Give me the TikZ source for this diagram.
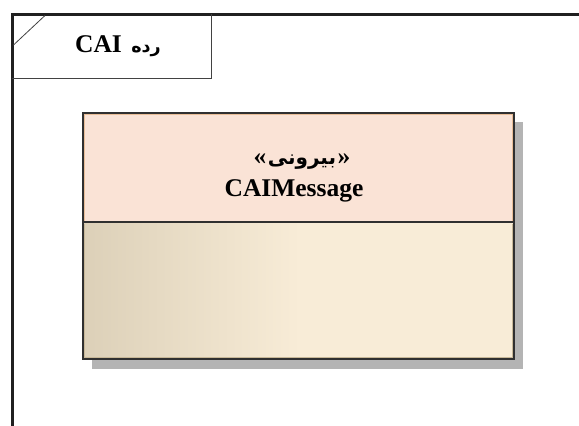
\documentclass[tikz,border=0pt]{standalone}
\usepackage{fontspec}
\setmainfont{Liberation Serif}
\newfontfamily\arabicfont[Script=Arabic]{DejaVu Sans}
\TeXXeTstate=1
\definecolor{frameline}{HTML}{202020}
\definecolor{boxline}{HTML}{303030}
\definecolor{headfill}{HTML}{FAE3D6}
\definecolor{headedge}{HTML}{E9BE98}
\definecolor{bodyleft}{HTML}{DCD0B8}
\definecolor{bodyright}{HTML}{F8ECD7}
\definecolor{bodyedge}{HTML}{C8B898}
\definecolor{shadowgrey}{HTML}{B4B4B4}
\tikzset{
  lbl/.style={inner sep=0pt, anchor=base, font=\fontsize{25.5}{30}\selectfont\bfseries},
  arlbl/.style={inner sep=0pt, anchor=base, font=\arabicfont\fontsize{17.5}{30}\selectfont\bfseries},
  arbig/.style={arlbl, font=\arabicfont\fontsize{20}{30}\selectfont\bfseries},
}
\begin{document}
\begin{tikzpicture}[x=1pt,y=-1pt]
  \useasboundingbox (0,0) rectangle (579,426);
  \fill[white] (0,0) rectangle (579,426);

  % package frame
  \draw[frameline, line width=3pt] (12,426) -- (12,14) -- (579,14);
  % name tab
  \draw[frameline!85, line width=0.8pt] (12,78) -- (211,78) -- (211,14);
  \draw[frameline!85, line width=0.8pt] (13.5,45) -- (45,15.5);
  \node[lbl] (cai) at (98.5,52.7) {CAI};
  \node[arlbl, anchor=base west] (rade) at ([xshift=9pt]cai.base east) {\beginR رده\endR};

  % class box shadow
  \fill[shadowgrey] (92,122) rectangle (523,369);
  % header compartment
  \fill[headfill] (83,113) rectangle (514,222);
  % body compartment with gradient on its left part
  \shade[left color=bodyleft, right color=bodyright] (83,222) rectangle (300,359);
  \fill[bodyright] (299.5,222) rectangle (514,359);
  % inner edges
  \draw[headedge, line width=0.7pt] (84.8,220.5) -- (84.8,114.8) -- (512.2,114.8) -- (512.2,220.5);
  \draw[bodyedge, line width=0.7pt] (84.8,223.5) -- (84.8,357.2) -- (512.2,357.2) -- (512.2,223.5);
  % outline and divider
  \draw[boxline, line width=2.2pt] (83,113) rectangle (514,359);
  \draw[boxline, line width=1.6pt] (83,222) -- (514,222);

  % class labels
  \node[arbig] (stereo) at (302,164) {\beginR بیرونی\endR};
  \node[lbl, anchor=base east] (lq) at ([xshift=-1pt]stereo.base west) {«};
  \node[lbl, anchor=base west] (rq) at ([xshift=1pt]stereo.base east) {»};
  \node[lbl] (cname) at (294,196) {CAIMessage};
\end{tikzpicture}
\end{document}
